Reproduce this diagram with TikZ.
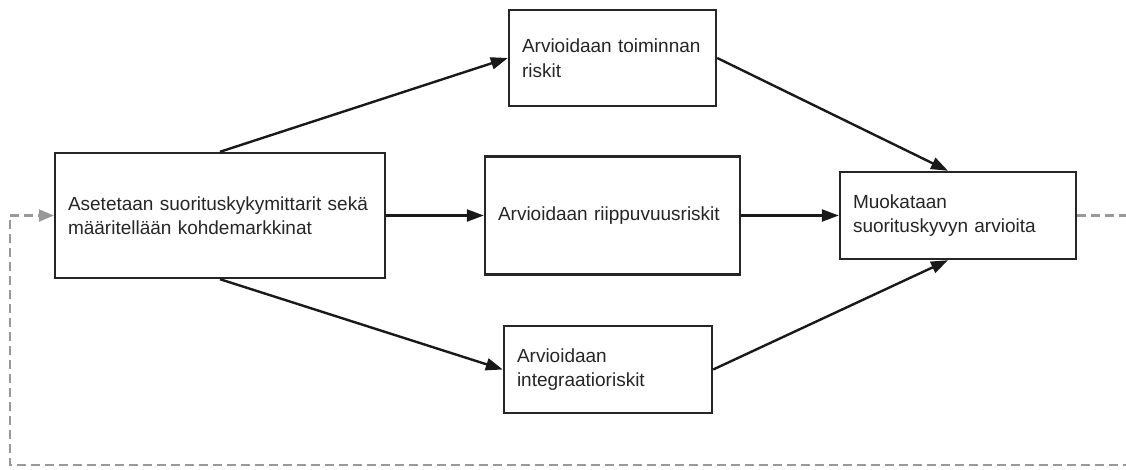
\documentclass[tikz,border=0pt]{standalone}
\usepackage{fontspec}
\setmainfont{Liberation Sans}
\usetikzlibrary{arrows.meta}
\begin{document}
\begin{tikzpicture}[x=1pt,y=-1pt,
  box/.style={draw=black!85, line width=2.4pt, fill=white, inner xsep=13pt, inner ysep=0pt,
    align=left, font=\fontsize{19}{24.5}\selectfont, text=black!85},
  arr/.style={draw=black!90, line width=2.4pt, -{Triangle[length=17pt,width=12pt]}},
  fb/.style={draw=black!40, line width=2.4pt, dash pattern=on 9pt off 5pt, -{Triangle[length=15pt,width=12pt]}}
]
\useasboundingbox (0,0) rectangle (1126,469);
\node[box, text width=304pt, minimum height=125pt] (a) at (220,215.5) {Asetetaan suorituskykymittarit sekä\\määritellään kohdemarkkinat};
\node[box, text width=181pt, minimum height=96pt] (t) at (612.5,58) {Arvioidaan toiminnan\\riskit};
\node[box, text width=229pt, minimum height=118pt] (m) at (612.5,215.5) {Arvioidaan riippuvuusriskit};
\node[box, text width=182pt, minimum height=87pt] (b) at (608,369.5) {Arvioidaan\\integraatioriskit};
\node[box, text width=210pt, minimum height=87pt] (r) at (958,215.5) {Muokataan\\suorituskyvyn arvioita};
\coordinate (c1) at (1127,215.5);
\coordinate (c2) at (1127,465);
\coordinate (c3) at (10,465);
\coordinate (c4) at (10,215.5);
\draw[arr] (a.north) -- (t.west);
\draw[arr] (a.east) -- (m.west);
\draw[arr] (a.south) -- (b.west);
\draw[arr] (t.east) -- (r.north -| 948,0);
\draw[arr] (m.east) -- (r.west);
\draw[arr] (b.east) -- (r.south -| 948,0);
\draw[fb] (r.east) -- (c1) -- (c2) -- (c3) -- (c4) -- (a.west);
\end{tikzpicture}
\end{document}
